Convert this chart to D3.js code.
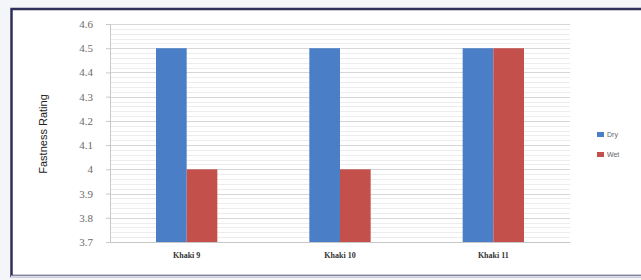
<!DOCTYPE html>
<html>
<head>
<meta charset="utf-8">
<script src="https://cdn.jsdelivr.net/npm/d3@7"></script>
<style>
  body { margin: 0; background: #fff; }
  svg { display: block; }
</style>
</head>
<body>
<div id="chart"></div>
<script>
// chart values
var categories = ["Khaki 9", "Khaki 10", "Khaki 11"];
var seriesNames = ["Dry", "Wet"];
var dryValues = [4.5, 4.5, 4.5];
var wetValues = [4.0, 4.0, 4.5];
var yTicks = [3.7, 3.8, 3.9, 4, 4.1, 4.2, 4.3, 4.4, 4.5, 4.6];

var svgWidth = 641, svgHeight = 280;
var colors = ["#4A7EC6", "#C4504C"];

var svg = d3.select("#chart").append("svg")
  .attr("width", svgWidth)
  .attr("height", svgHeight);

// outer frame
svg.append("rect")
  .attr("x", 0).attr("y", 0).attr("width", svgWidth).attr("height", svgHeight)
  .attr("fill", "#f4f5f9");
svg.append("rect")
  .attr("x", 11.5).attr("y", 9).attr("width", 640).attr("height", 267)
  .attr("fill", "#fff")
  .attr("stroke", "#2f2f5a").attr("stroke-width", 2.5);
svg.append("line")
  .attr("x1", 11).attr("x2", 641).attr("y1", 276.5).attr("y2", 276.5)
  .attr("stroke", "#d8dbe6").attr("stroke-width", 2);

var margin = { top: 24, left: 110 };
var width = 460, height = 218;

var g = svg.append("g")
  .attr("transform", `translate(${margin.left}, ${margin.top})`);

var x0 = d3.scaleBand().domain(categories).range([0, width]).paddingInner(0.6).paddingOuter(0.3);
var x1 = d3.scaleBand().domain(seriesNames).range([0, x0.bandwidth()]);
var y = d3.scaleLinear().domain([3.7, 4.6]).range([height, 0]);

// minor gridlines
var minor = d3.range(3.72, 4.6001, 0.02);
g.append("g").selectAll("line")
  .data(minor)
  .enter().append("line")
  .attr("x1", 0).attr("x2", width)
  .attr("y1", d => Math.round(y(d)) + 0.5).attr("y2", d => Math.round(y(d)) + 0.5)
  .attr("stroke", "#ececec");

g.append("g").selectAll("line")
  .data(yTicks)
  .enter().append("line")
  .attr("x1", 0).attr("x2", width)
  .attr("y1", d => Math.round(y(d)) + 0.5).attr("y2", d => Math.round(y(d)) + 0.5)
  .attr("stroke", "#d6d6d6");

// bars
var rows = categories.map((c, i) => ({ cat: c, vals: [dryValues[i], wetValues[i]] }));
var groups = g.selectAll(".grp").data(rows).enter().append("g")
  .attr("transform", d => `translate(${x0(d.cat)},0)`);
groups.selectAll("rect")
  .data(d => d.vals.map((v, j) => ({ name: seriesNames[j], v: v, j: j })))
  .enter().append("rect")
  .attr("x", d => x1(d.name))
  .attr("width", x1.bandwidth())
  .attr("y", d => y(d.v))
  .attr("height", d => height - y(d.v))
  .attr("fill", d => colors[d.j]);

// y axis
var yAxis = d3.axisLeft(y).tickValues(yTicks).tickSize(4).tickFormat(d3.format("~g"));
var ya = g.append("g").call(yAxis);
ya.select(".domain").attr("stroke", "#c8c8c8");
ya.selectAll(".tick line").attr("stroke", "#c8c8c8");
ya.selectAll("text")
  .attr("x", -17)
  .attr("font-family", "Liberation Serif, serif")
  .attr("font-size", "11px")
  .attr("fill", "#6a6a6a");

// x axis
var xa = g.append("g").attr("transform", `translate(0, ${height})`)
  .call(d3.axisBottom(x0).tickSize(0));
xa.select(".domain").attr("stroke", "#c8c8c8");
xa.selectAll("text")
  .attr("dy", "1.6em")
  .attr("font-family", "Liberation Serif, serif")
  .attr("font-size", "8px")
  .attr("font-weight", "bold")
  .attr("fill", "#333");

// y title
svg.append("text")
  .attr("transform", "translate(47, 134) rotate(-90)")
  .attr("text-anchor", "middle")
  .attr("font-family", "Liberation Sans Narrow, Liberation Sans, sans-serif")
  .attr("font-size", "11px")
  .attr("fill", "#222")
  .text("Fastness Rating");

// legend
var legend = svg.append("g").attr("transform", "translate(597, 135)");
var items = legend.selectAll("g").data(seriesNames).enter().append("g")
  .attr("transform", (d, i) => `translate(0, ${i * 20})`);
items.append("rect")
  .attr("x", 0).attr("y", -3).attr("width", 7).attr("height", 5)
  .attr("fill", (d, i) => colors[i]);
items.append("text")
  .attr("x", 10).attr("y", 2)
  .attr("font-family", "Liberation Sans, sans-serif")
  .attr("font-size", "7px")
  .attr("fill", "#666")
  .text(d => d);
</script>
</body>
</html>
